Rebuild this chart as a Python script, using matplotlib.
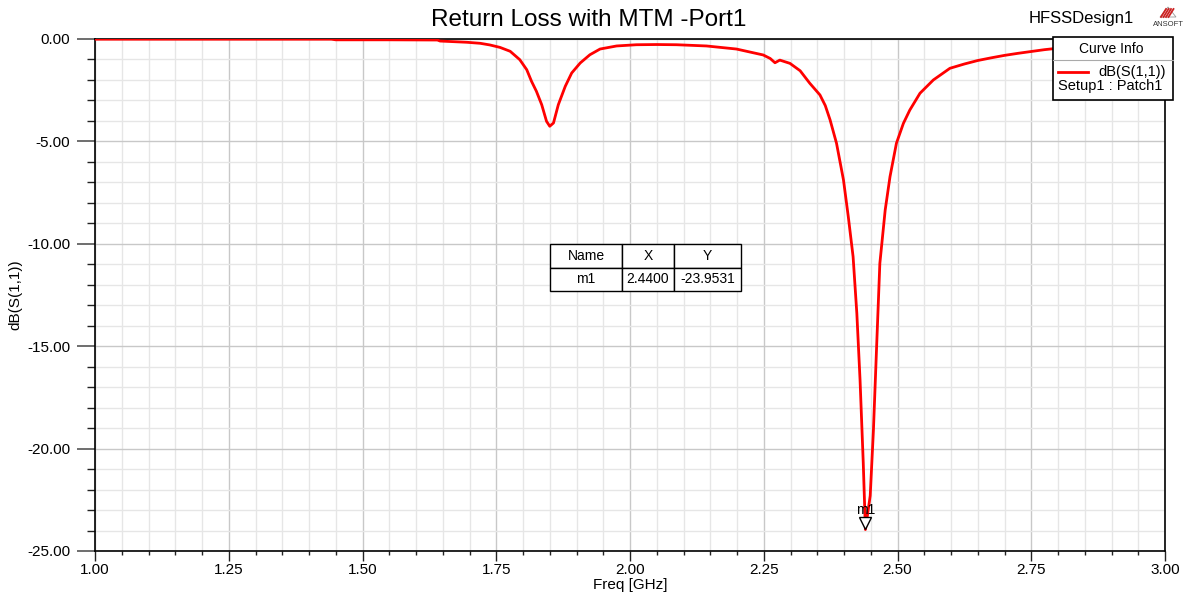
import matplotlib
matplotlib.use('Agg')
import matplotlib.pyplot as plt
import matplotlib.transforms as mtransforms
from matplotlib.patches import Rectangle, Polygon
from matplotlib.lines import Line2D
from matplotlib.ticker import MultipleLocator, FormatStrFormatter

plt.rcParams['font.family'] = ['Liberation Sans', 'DejaVu Sans']

# data
freq = [1.00, 1.10, 1.20, 1.30, 1.40, 1.442, 1.45, 1.55, 1.64, 1.645, 1.695, 1.72,
        1.738, 1.757, 1.776, 1.794, 1.807, 1.816, 1.825, 1.835, 1.844, 1.850, 1.857,
        1.866, 1.879, 1.891, 1.907, 1.925, 1.944, 1.975, 2.012, 2.05, 2.087, 2.143,
        2.199, 2.249, 2.262, 2.271, 2.280, 2.299, 2.318, 2.336, 2.355, 2.365, 2.374, 2.386,
        2.399, 2.408, 2.417, 2.424, 2.430, 2.436, 2.440, 2.449, 2.455, 2.461, 2.467,
        2.477, 2.486, 2.498, 2.511, 2.523, 2.542, 2.567, 2.598, 2.625, 2.65, 2.675, 2.70,
        2.725, 2.75, 2.775, 2.80, 2.85, 2.90, 2.95, 3.00]
s11_db = [-0.01, -0.01, -0.01, -0.01, -0.01, -0.01, -0.04, -0.04, -0.05, -0.10, -0.16, -0.21,
          -0.29, -0.41, -0.60, -1.01, -1.50, -2.07, -2.55, -3.21, -4.02, -4.26, -4.10,
          -3.21, -2.31, -1.66, -1.17, -0.77, -0.49, -0.34, -0.28, -0.27, -0.28, -0.34,
          -0.49, -0.78, -0.95, -1.16, -1.03, -1.19, -1.55, -2.16, -2.73, -3.25, -3.95, -5.09,
          -6.88, -8.67, -10.63, -13.4, -16.65, -20.7, -23.9531, -22.3, -19.1, -15.0, -10.96,
          -8.35, -6.72, -5.09, -4.12, -3.47, -2.65, -2.0, -1.43, -1.22, -1.05, -0.92, -0.80,
          -0.70, -0.61, -0.52, -0.45, -0.36, -0.31, -0.28, -0.27]

marker_x = 2.4400
marker_y = -23.9531

fig = plt.figure(figsize=(11.89, 5.97), dpi=100)
ax = fig.add_axes([95/1189, 1 - 551/597, 1070/1189, 512/597])

ax.plot(freq, s11_db, color='#ff0000', lw=2.0, zorder=3)
ax.set_xlim(1.0, 3.0)
ax.set_ylim(-25, 0)

ax.xaxis.set_major_locator(MultipleLocator(0.25))
ax.xaxis.set_minor_locator(MultipleLocator(0.05))
ax.yaxis.set_major_locator(MultipleLocator(5))
ax.yaxis.set_minor_locator(MultipleLocator(1))
ax.xaxis.set_major_formatter(FormatStrFormatter('%.2f'))
ax.yaxis.set_major_formatter(FormatStrFormatter('%.2f'))

ax.grid(which='major', color='#c8c8c8', lw=1.0, zorder=0)
ax.grid(which='minor', color='#e6e6e6', lw=1.0, zorder=0)
ax.set_axisbelow(True)

ax.tick_params(axis='y', which='major', direction='out', length=13, width=1.2,
               color='#555555', labelsize=11, pad=5)
ax.tick_params(axis='y', which='minor', direction='out', length=6, width=1.0, color='#222222')
ax.tick_params(axis='x', which='major', direction='out', length=7, width=1.0,
               color='#222222', labelsize=11, pad=2)
ax.tick_params(axis='x', which='minor', direction='out', length=3, width=1.0, color='#222222')
for sp in ax.spines.values():
    sp.set_linewidth(1.2)
    sp.set_color('black')

ax.set_xlabel('Freq [GHz]', fontsize=11, labelpad=0)
ax.set_ylabel('dB(S(1,1))', fontsize=11, labelpad=3)

fig.text(589/1189, 1 - 20/597, 'Return Loss with MTM -Port1', fontsize=17.5,
         ha='center', va='center')
fig.text(1081/1189, 1 - 18/597, 'HFSSDesign1', fontsize=12, ha='center', va='center')

# ANSOFT logo
for i in range(4):
    fig.add_artist(Line2D([(1161 + i * 2.5) / 1189, (1166 + i * 2.5) / 1189],
                          [1 - 17/597, 1 - 9/597], color='#cc2222', lw=1.3))
fig.add_artist(Polygon([(1160/1189, 1 - 17/597), (1176/1189, 1 - 17/597),
                        (1168/1189, 1 - 7/597)], closed=True, fill=False,
                       edgecolor='#999999', lw=0.6))
fig.text(1168/1189, 1 - 25/597, 'ANSOFT', fontsize=5.5, ha='center', va='center',
         color='#333333')

# marker m1 (triangle sits above the point, tip on it)
tri_trans = mtransforms.offset_copy(ax.transData, fig=fig, x=0, y=4.5, units='points')
ax.plot([marker_x], [marker_y], marker='v', markersize=9, markerfacecolor='white',
        markeredgecolor='black', markeredgewidth=1.0, zorder=4, transform=tri_trans)
ax.annotate('m1', xy=(marker_x, marker_y), xytext=(0, 14), textcoords='offset points',
            fontsize=10, ha='center', va='center', zorder=5)

# marker table
tbl = ax.table(cellText=[['m1', '%.4f' % marker_x, '%.4f' % marker_y]],
               colLabels=['Name', 'X', 'Y'],
               colWidths=[72, 52, 67],
               cellLoc='center',
               bbox=[(550 - 95)/1070, (551 - 291)/512, 191/1070, 47/512])
tbl.auto_set_font_size(False)
tbl.set_fontsize(10)
for (r, c), cell in tbl.get_celld().items():
    cell.set_facecolor('white')
    cell.set_edgecolor('black')
    cell.set_linewidth(1.0)
tbl.set_zorder(6)

# curve info legend box
x0, x1 = 1053/1189, 1173/1189
y0, y1 = 1 - 100/597, 1 - 37/597
fig.add_artist(Rectangle((x0, y0), x1 - x0, y1 - y0, facecolor='white',
                         edgecolor='black', lw=1.2, zorder=10))
fig.add_artist(Line2D([x0, x1], [1 - 60/597, 1 - 60/597], color='#aaaaaa', lw=0.8, zorder=11))
fig.text(1111/1189, 1 - 49/597, 'Curve Info', fontsize=10, ha='center', va='center', zorder=12)
fig.add_artist(Line2D([1058/1189, 1088/1189], [1 - 72/597, 1 - 72/597], color='#ff0000',
                      lw=2.0, zorder=12))
fig.text(1166/1189, 1 - 72/597, 'dB(S(1,1))', fontsize=10.5, ha='right', va='center', zorder=12)
fig.text(1058/1189, 1 - 86/597, 'Setup1 : Patch1', fontsize=10.5, ha='left', va='center', zorder=12)

fig.savefig('out.png', dpi=100)
